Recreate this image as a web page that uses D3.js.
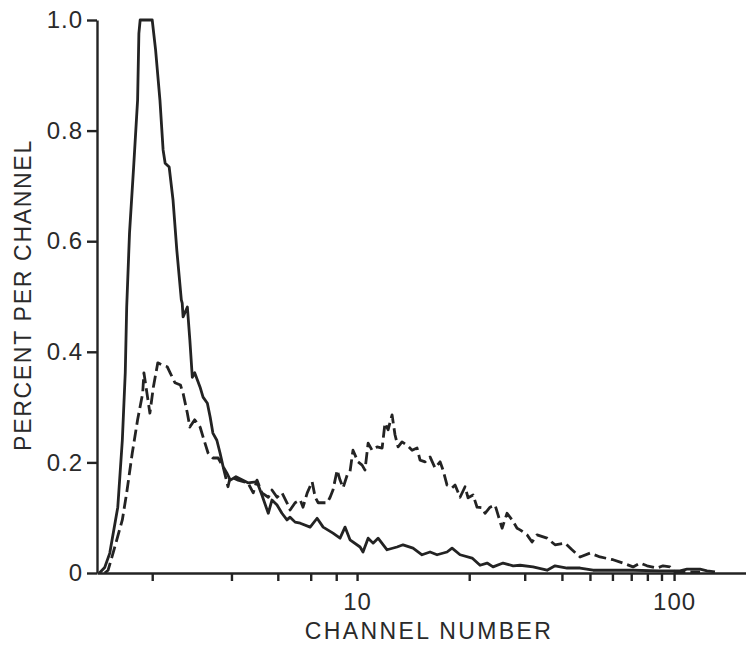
<!DOCTYPE html>
<html>
<head>
<meta charset="utf-8">
<script src="https://cdn.jsdelivr.net/npm/d3@7"></script>
<style>
  body { margin: 0; background: #fff; }
  svg { display: block; }
  text { font-family: "Liberation Sans", Arial, sans-serif; fill: #2a2a2a; }
</style>
</head>
<body>
<div id="chart"></div>
<script>
// channel numbers (log amplifier scale, offset of 4 channels)
var solidCh = [
  4.63, 4.66, 4.69, 4.74, 4.77, 4.79, 4.80, 4.82, 4.85, 4.88,
  4.89, 4.90, 5.00, 5.03, 5.07, 5.10, 5.12, 5.16, 5.20, 5.24,
  5.29, 5.30, 5.31, 5.36, 5.39, 5.42, 5.45, 5.52, 5.56, 5.62,
  5.66, 5.70, 5.76, 5.81, 5.86, 5.92, 5.98, 6.08, 6.31, 6.50,
  6.61, 6.76, 6.85, 6.98, 7.11, 7.25, 7.34, 7.49, 7.65, 7.98,
  8.23, 8.46, 8.86, 9.17, 9.40, 9.64, 10.16, 10.32, 10.61, 10.90,
  11.21, 11.80, 12.51, 12.97, 13.79, 14.59, 15.36, 16.08, 17.18, 17.77,
  18.77, 20.41, 21.59, 22.71, 23.71, 25.52, 27.49, 28.97, 31.96, 35.61,
  37.90, 41.65, 46.19, 51.27, 60.29, 71.04, 88.90, 105.1, 111.5, 124.5,
  132.1, 141.3
];
var solidPct = [
  0, 0.01, 0.036, 0.119, 0.24, 0.362, 0.481, 0.615, 0.734, 0.855,
  0.976, 1.0, 1.0, 0.946, 0.855, 0.765, 0.741, 0.734, 0.674, 0.584,
  0.494, 0.488, 0.463, 0.481, 0.421, 0.354, 0.362, 0.336, 0.318, 0.307,
  0.282, 0.253, 0.24, 0.217, 0.192, 0.181, 0.168, 0.174, 0.163, 0.165,
  0.141, 0.108, 0.132, 0.123, 0.108, 0.096, 0.101, 0.092, 0.09, 0.083,
  0.099, 0.083, 0.072, 0.063, 0.083, 0.06, 0.047, 0.038, 0.063, 0.054,
  0.063, 0.042, 0.047, 0.051, 0.045, 0.033, 0.038, 0.033, 0.038, 0.045,
  0.033, 0.027, 0.014, 0.018, 0.011, 0.018, 0.013, 0.014, 0.011, 0.005,
  0.013, 0.009, 0.009, 0.005, 0.005, 0.005, 0.004, 0.004, 0.007, 0.007,
  0.004, 0.002
];

var dashedCh = [
  4.66, 4.68, 4.71, 4.77, 4.80, 4.84, 4.88, 4.92, 4.93, 4.96,
  4.98, 5.01, 5.05, 5.09, 5.14, 5.17, 5.22, 5.28, 5.31, 5.36,
  5.39, 5.45, 5.52, 5.56, 5.63, 5.70, 5.78, 5.86, 5.94, 5.98,
  6.12, 6.31, 6.42, 6.50, 6.61, 6.76, 6.85, 6.98, 7.11, 7.25,
  7.34, 7.49, 7.65, 7.74, 7.88, 8.05, 8.16, 8.27, 8.62, 8.74,
  8.86, 9.04, 9.17, 9.31, 9.50, 9.64, 9.79, 10.05, 10.27, 10.43,
  10.61, 10.84, 11.15, 11.47, 11.66, 11.87, 12.15, 12.36, 12.59, 12.89,
  13.29, 13.71, 14.14, 14.41, 14.88, 15.36, 15.87, 16.40, 16.73, 17.18,
  17.77, 18.14, 18.77, 19.43, 19.84, 20.55, 21.14, 21.91, 22.38, 23.20,
  24.06, 24.59, 25.33, 26.28, 27.28, 28.32, 28.97, 30.54, 31.72, 32.96,
  35.61, 37.90, 41.00, 43.32, 46.19, 50.04, 54.25, 60.29, 65.43, 71.04,
  75.28, 79.78, 86.71, 91.16, 96.68, 100.8, 124.5
];
var dashedPct = [
  0, 0.005, 0.036, 0.096, 0.145, 0.217, 0.277, 0.325, 0.362, 0.318,
  0.289, 0.336, 0.38, 0.376, 0.373, 0.362, 0.344, 0.34, 0.325, 0.289,
  0.264, 0.277, 0.264, 0.246, 0.217, 0.208, 0.208, 0.192, 0.156, 0.174,
  0.168, 0.163, 0.145, 0.168, 0.145, 0.137, 0.15, 0.137, 0.145, 0.127,
  0.114, 0.127, 0.132, 0.119, 0.145, 0.165, 0.137, 0.127, 0.127, 0.137,
  0.15, 0.186, 0.168, 0.154, 0.177, 0.183, 0.222, 0.201, 0.195, 0.186,
  0.235, 0.222, 0.228, 0.226, 0.271, 0.259, 0.286, 0.25, 0.228, 0.237,
  0.231, 0.222, 0.226, 0.204, 0.201, 0.21, 0.19, 0.201, 0.186, 0.159,
  0.154, 0.159, 0.137, 0.156, 0.136, 0.141, 0.119, 0.118, 0.108, 0.119,
  0.123, 0.105, 0.081, 0.108, 0.096, 0.081, 0.078, 0.069, 0.056, 0.069,
  0.063, 0.051, 0.054, 0.042, 0.029, 0.036, 0.029, 0.024, 0.018, 0.011,
  0.018, 0.013, 0.009, 0.013, 0.011, 0.002, 0.002
];

var yTicks = [0, 0.2, 0.4, 0.6, 0.8, 1.0];
var xTicks = [5, 6, 7, 8, 9, 10, 20, 30, 40, 50, 60, 70, 80, 90, 100];
var xLabels = [10, 100];
var chOffset = 4;

var width = 746, height = 646;
var svg = d3.select("#chart").append("svg")
    .attr("width", width)
    .attr("height", height);

// log amp: position goes with log(channel - offset)
var xLog = d3.scaleLog().domain([4.617 - chOffset, 184.1 - chOffset]).range([97, 746]);
var x = function (ch) { return xLog(ch - chOffset); };
var y = d3.scaleLinear().domain([0, 1]).range([573, 20]);

var ink = "#232323";

var xAxis = svg.append("g")
    .attr("transform", "translate(0,573)")
    .call(d3.axisBottom(xLog)
      .tickValues(xTicks.map(function (t) { return t - chOffset; }))
      .tickSize(8)
      .tickSizeOuter(0)
      .tickPadding(12)
      .tickFormat(function (d) {
        var ch = Math.round(d + chOffset);
        return xLabels.indexOf(ch) >= 0 ? ch : "";
      }));

var yAxis = svg.append("g")
    .attr("transform", "translate(97,0)")
    .call(d3.axisLeft(y)
      .tickValues(yTicks)
      .tickSize(10)
      .tickSizeOuter(0)
      .tickPadding(4)
      .tickFormat(function (d) { return d === 0 ? "0" : d.toFixed(1); }));

[xAxis, yAxis].forEach(function (g) {
  g.select(".domain").attr("stroke", ink).attr("stroke-width", 2.4);
  g.selectAll(".tick line").attr("stroke", ink).attr("stroke-width", 2.4);
  g.selectAll(".tick text")
    .attr("fill", "#2a2a2a")
    .style("font-size", "24px")
    .style("letter-spacing", "1px");
});

var line = d3.line()
    .x(function (d) { return x(d[0]); })
    .y(function (d) { return y(d[1]); });

svg.append("path")
    .datum(d3.zip(solidCh, solidPct))
    .attr("d", line)
    .attr("fill", "none")
    .attr("stroke", ink)
    .attr("stroke-width", 2.8)
    .attr("stroke-linejoin", "round");

svg.append("path")
    .datum(d3.zip(dashedCh, dashedPct))
    .attr("d", line)
    .attr("fill", "none")
    .attr("stroke", ink)
    .attr("stroke-width", 2.8)
    .attr("stroke-dasharray", "12,5")
    .attr("stroke-linejoin", "round");

svg.append("text")
    .attr("x", 429)
    .attr("y", 639)
    .attr("text-anchor", "middle")
    .style("font-size", "23px")
    .style("letter-spacing", "2.4px")
    .text("CHANNEL NUMBER");

svg.append("text")
    .attr("transform", "translate(31,295) rotate(-90)")
    .attr("text-anchor", "middle")
    .style("font-size", "23px")
    .style("letter-spacing", "1.7px")
    .text("PERCENT PER CHANNEL");
</script>
</body>
</html>
